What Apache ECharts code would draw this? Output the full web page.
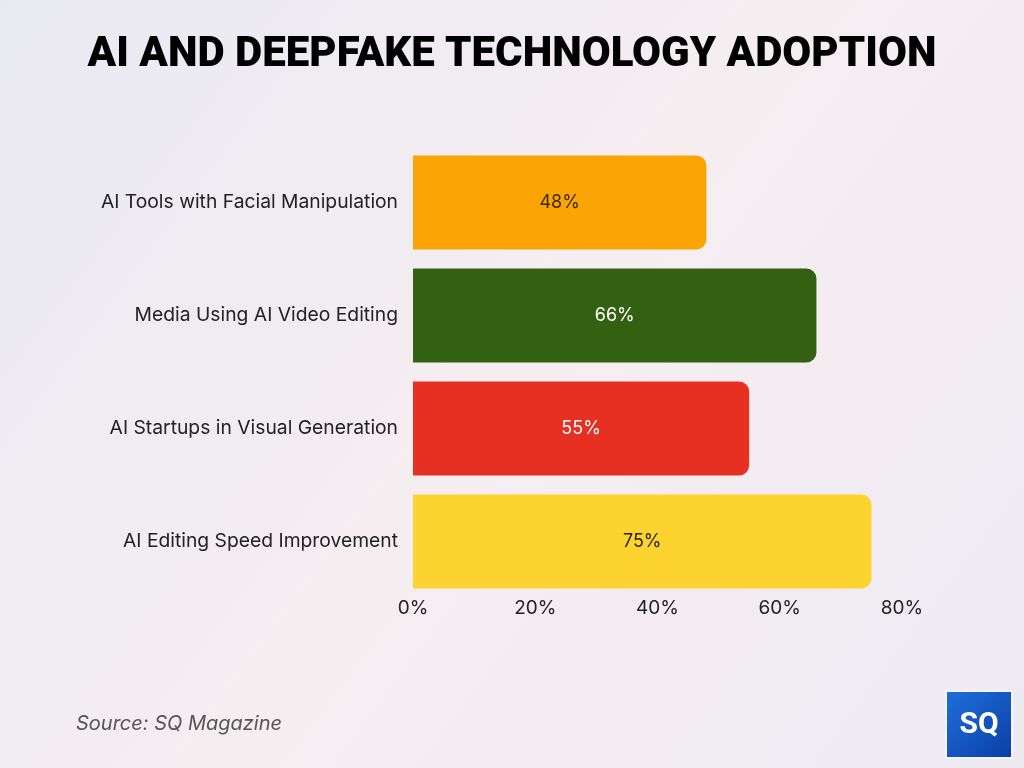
<!DOCTYPE html>
<html><head><meta charset="utf-8">
<script src="https://cdn.jsdelivr.net/npm/echarts@6/dist/echarts.min.js"></script>
<style>html,body{margin:0;padding:0;}#c{width:1024px;height:768px;}</style>
</head><body><div id="c"></div>
<script>
const categories = ["AI Tools with Facial Manipulation", "Media Using AI Video Editing", "AI Startups in Visual Generation", "AI Editing Speed Improvement"];
const values = [48, 66, 55, 75];
const barColors = ["#FBA504", "#336111", "#E83022", "#FDD32F"];
const labelColors = ["#3a2a10", "#ffffff", "#ffffff", "#2a2410"];
const xTicks = [0, 20, 40, 60, 80];

const chart = echarts.init(document.getElementById('c'), null, {renderer: 'canvas'});
chart.setOption({
  backgroundColor: {
    type: 'linear', x: 0, y: 0, x2: 1, y2: 1,
    colorStops: [{offset: 0, color: '#E9E9F2'}, {offset: 0.5, color: '#F5EEF1'}, {offset: 1, color: '#EEEAF2'}]
  },
  title: {
    text: 'AI AND DEEPFAKE TECHNOLOGY ADOPTION',
    left: 'center', top: 29,
    textStyle: {fontFamily: 'Roboto', fontWeight: 900, fontSize: 42, color: '#000'}
  },
  grid: {left: 413, right: 122, top: 146, bottom: 170},
  xAxis: {
    type: 'value', min: xTicks[0], max: xTicks[xTicks.length - 1], interval: 20,
    axisLine: {show: false}, axisTick: {show: false}, splitLine: {show: false},
    axisLabel: {formatter: '{value}%', color: '#222', fontSize: 19, fontFamily: 'Inter', margin: 1}
  },
  yAxis: {
    type: 'category', data: categories, inverse: true,
    axisLine: {show: false}, axisTick: {show: false},
    axisLabel: {color: '#222', fontSize: 19.3, fontFamily: 'Inter', margin: 15}
  },
  series: [{
    type: 'bar',
    barCategoryGap: '17%',
    data: values.map((v, i) => ({
      value: v,
      itemStyle: {color: barColors[i], borderRadius: [0, 10, 10, 0]},
      label: {color: labelColors[i]}
    })),
    label: {show: true, position: 'inside', formatter: '{c}%', fontSize: 18, fontFamily: 'Inter'}
  }],
  graphic: [
    {type: 'text', left: 76, top: 714, style: {text: 'Source: SQ Magazine', fill: '#555', fontSize: 20, fontStyle: 'italic', fontFamily: 'Inter'}},
    {type: 'rect', left: 945, top: 690, shape: {width: 68, height: 69}, style: {fill: '#F4F4FA'}},
    {type: 'rect', left: 947, top: 692, shape: {width: 64, height: 65},
      style: {fill: {type: 'linear', x: 0, y: 0, x2: 1, y2: 1, colorStops: [{offset: 0, color: '#1E6FD9'}, {offset: 1, color: '#0B3FA8'}]}}},
    {type: 'text', x: 979, y: 725, style: {text: 'SQ', fill: '#fff', fontSize: 30, fontWeight: 'bold', fontFamily: 'Roboto', align: 'center', verticalAlign: 'middle'}}
  ]
});
</script></body></html>
